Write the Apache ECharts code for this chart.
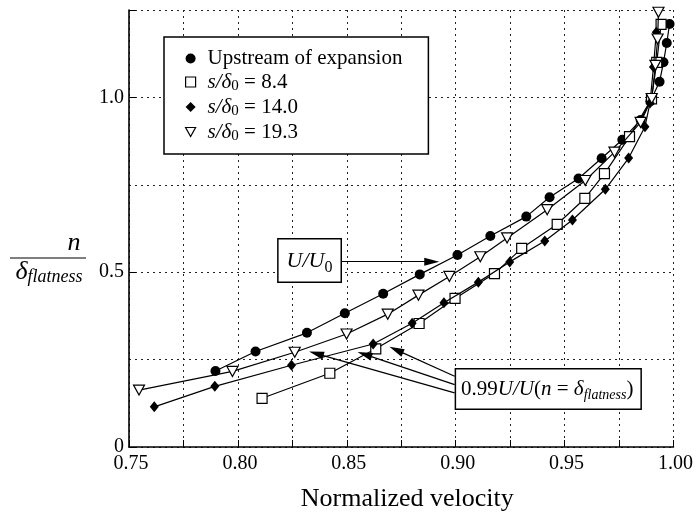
<!DOCTYPE html>
<html>
<head>
<meta charset="utf-8">
<script src="https://cdn.jsdelivr.net/npm/echarts@6/dist/echarts.min.js"></script>
<style>html,body{margin:0;padding:0;background:#fff}#c{width:696px;height:517px}</style>
</head>
<body>
<div id="c"></div>
<script>
// ---- data ----
const seriesNames = ['Upstream of expansion', 's/δ0 = 8.4', 's/δ0 = 14.0', 's/δ0 = 19.3'];
const upstream = [[0.7897,0.2172],[0.8081,0.2731],[0.8317,0.3266],[0.8491,0.3828],[0.8667,0.4384],[0.8835,0.4937],[0.9008,0.549],[0.9159,0.6034],[0.9324,0.659],[0.9431,0.7143],[0.9564,0.7679],[0.967,0.826],[0.9765,0.879],[0.9849,0.935],[0.9894,0.989],[0.9936,1.0447],[0.9954,1.1003],[0.9969,1.1556],[0.9982,1.21]];
const s84 = [[0.8111,0.1393],[0.8422,0.2109],[0.8633,0.2808],[0.8832,0.3533],[0.8997,0.4249],[0.9178,0.496],[0.9303,0.5682],[0.9466,0.637],[0.9593,0.7109],[0.9683,0.7822],[0.9798,0.8877],[0.9899,0.996],[0.9923,1.1003],[0.9943,1.2086]];
const s140 = [[0.7616,0.1149],[0.7894,0.1736],[0.8246,0.2338],[0.8621,0.2946],[0.88,0.3539],[0.8946,0.4126],[0.9104,0.4716],[0.9248,0.5295],[0.9409,0.5891],[0.9536,0.6493],[0.9687,0.7372],[0.9794,0.8266],[0.9869,0.9163],[0.9892,0.9837],[0.9908,1.0868],[0.9921,1.1862]];
const s193 = [[0.7546,0.1628],[0.7975,0.2163],[0.8261,0.2711],[0.8499,0.3232],[0.8688,0.38],[0.8829,0.4344],[0.8971,0.488],[0.9113,0.5441],[0.9236,0.598],[0.942,0.6788],[0.9595,0.7622],[0.9729,0.8433],[0.9849,0.9284],[0.99,0.9968],[0.9917,1.0917],[0.9927,1.167],[0.9931,1.2436]];
// annotation anchors (data coordinates)
const uBoxCenter = [0.8329, 0.5338];
const uArrow = [[0.8475, 0.530], [0.889, 0.530]];
const fBoxCenter = [0.9425, 0.1662];
const fArrows = [
  [[0.8995, 0.2023], [0.8727, 0.2777]],
  [[0.8995, 0.1785], [0.8582, 0.2648]],
  [[0.8995, 0.1547], [0.8360, 0.2670]]
];
const xTick = {min: 0.75, max: 1.0, step: 0.025};
const yTick = {min: 0, max: 1.25, step: 0.25, labelStep: 0.5};

const FONT = '"Liberation Serif", "Times New Roman", serif';
const chart = echarts.init(document.getElementById('c'), null, {renderer: 'canvas'});

const lineStyle = {color: '#000', width: 1.2};
const richLegend = {
  n0: {fontFamily: FONT, fontSize: 21, color: '#000', lineHeight: 24, padding: [0, 0, 0, 7]},
  it0: {fontFamily: FONT, fontSize: 21, fontStyle: 'italic', color: '#000', lineHeight: 24, padding: [0, 0, 0, 7]},
  n: {fontFamily: FONT, fontSize: 21, color: '#000', lineHeight: 24},
  sub: {fontFamily: FONT, fontSize: 15, color: '#000', lineHeight: 8, verticalAlign: 'bottom'}
};

function legendFmt(name) {
  if (name.indexOf('s/δ0') === 0) {
    return '{it0|s/δ}{sub|0}{n|' + name.slice(4) + '}';
  }
  return '{n0|' + name + '}';
}

const option = {
  animation: false,
  backgroundColor: '#fff',
  grid: {left: 129, right: 22, top: 10, bottom: 70, containLabel: false},
  xAxis: {
    type: 'value', min: xTick.min, max: xTick.max, interval: xTick.step,
    name: 'Normalized velocity', nameLocation: 'middle', nameGap: 36,
    nameTextStyle: {fontFamily: FONT, fontSize: 26, color: '#000', padding: [3, 0, 0, 12]},
    axisLine: {show: true, lineStyle: {color: '#000', width: 1.6}},
    axisTick: {show: true, inside: true, length: 7, lineStyle: {color: '#000', width: 1}},
    axisLabel: {
      fontFamily: FONT, fontSize: 20, color: '#000', margin: 7, padding: [0, 0, 0, 4],
      formatter: function (v) { const k = Math.round(v * 1000); return k % 50 === 0 ? (k / 1000).toFixed(2) : ''; }
    },
    splitLine: {show: true, lineStyle: {color: '#222', width: 1, type: [2, 4]}}
  },
  yAxis: [
    {
      type: 'value', min: yTick.min, max: yTick.max, interval: yTick.step, position: 'left',
      axisLine: {show: false}, axisTick: {show: false}, axisLabel: {show: false},
      splitLine: {show: true, lineStyle: {color: '#222', width: 1, type: [2, 4]}}
    },
    {
      type: 'value', min: yTick.min, max: yTick.max, interval: yTick.labelStep, position: 'left', offset: 0,
      axisLine: {show: true, lineStyle: {color: '#000', width: 1.6}},
      axisTick: {show: true, inside: true, length: 7, lineStyle: {color: '#000', width: 1}},
      axisLabel: {
        fontFamily: FONT, fontSize: 20, color: '#000', margin: 5,
        formatter: function (v) { if (v > 1.2) return ''; return v === 0 ? '0' : v.toFixed(1); }
      },
      splitLine: {show: false}
    }
  ],
  legend: {
    show: true, orient: 'vertical', left: 164, top: 37,
    padding: [11, 26, 10, 21], itemGap: 2.5, itemWidth: 10, itemHeight: 10,
    borderColor: '#000', borderWidth: 1.5, backgroundColor: '#fff',
    selectedMode: false,
    textStyle: {fontFamily: FONT, fontSize: 21, color: '#000', rich: richLegend},
    formatter: legendFmt,
    data: [
      {name: seriesNames[0], icon: 'circle', itemStyle: {color: '#000'}},
      {name: seriesNames[1], icon: 'rect', itemStyle: {color: '#fff', borderColor: '#000', borderWidth: 1.2}},
      {name: seriesNames[2], icon: 'diamond', itemStyle: {color: '#000'}},
      {name: seriesNames[3], icon: 'path://M0,0 L10,0 L5,9 Z', itemStyle: {color: '#fff', borderColor: '#000', borderWidth: 1.2}}
    ]
  },
  series: [
    {
      name: seriesNames[0], type: 'line', yAxisIndex: 0, data: upstream,
      symbol: 'circle', symbolSize: 10, showAllSymbol: true,
      itemStyle: {color: '#000'}, lineStyle: lineStyle, z: 3,
      markLine: {
        silent: true, animation: false,
        symbol: ['none', 'triangle'],
        lineStyle: {color: '#000', width: 1.2, type: 'solid'},
        label: {show: false},
        data: [uArrow].concat(fArrows).map(function (pair) {
          return [
            {coord: pair[0], symbol: 'none'},
            {coord: pair[1], symbol: 'triangle', symbolSize: [8, 15]}
          ];
        })
      },
      markPoint: {
        silent: true, animation: false, symbol: 'rect', symbolSize: 1,
        itemStyle: {color: 'rgba(0,0,0,0)'},
        data: [
          {
            coord: uBoxCenter,
            label: {
              show: true, position: 'inside', formatter: '{it|U/U}{sub|0}',
              backgroundColor: '#fff', borderColor: '#000', borderWidth: 1.5,
              padding: [8, 8, 6, 8],
              rich: {
                it: {fontFamily: FONT, fontSize: 22, fontStyle: 'italic', color: '#000', lineHeight: 28},
                sub: {fontFamily: FONT, fontSize: 16, color: '#000', lineHeight: 8, verticalAlign: 'bottom'}
              }
            }
          },
          {
            coord: fBoxCenter,
            label: {
              show: true, position: 'inside',
              formatter: '{n|0.99}{it|U/U}{n|(}{it|n}{n| = }{it|δ}{sub|flatness}{n|)}',
              backgroundColor: '#fff', borderColor: '#000', borderWidth: 1.5,
              padding: [7, 7, 6, 5],
              rich: {
                n: {fontFamily: FONT, fontSize: 21, color: '#000', lineHeight: 26},
                it: {fontFamily: FONT, fontSize: 21, fontStyle: 'italic', color: '#000', lineHeight: 26},
                sub: {fontFamily: FONT, fontSize: 14, fontStyle: 'italic', color: '#000', lineHeight: 8, verticalAlign: 'bottom'}
              }
            }
          }
        ]
      }
    },
    {
      name: seriesNames[1], type: 'line', yAxisIndex: 0, data: s84,
      symbol: 'rect', symbolSize: 10, showAllSymbol: true,
      itemStyle: {color: '#fff', borderColor: '#000', borderWidth: 1.2}, lineStyle: lineStyle, z: 4
    },
    {
      name: seriesNames[2], type: 'line', yAxisIndex: 0, data: s140,
      symbol: 'diamond', symbolSize: [9, 11], showAllSymbol: true,
      itemStyle: {color: '#000'}, lineStyle: lineStyle, z: 5
    },
    {
      name: seriesNames[3], type: 'line', yAxisIndex: 0, data: s193,
      symbol: 'triangle', symbolRotate: 180, symbolSize: [11, 10], showAllSymbol: true,
      itemStyle: {color: '#fff', borderColor: '#000', borderWidth: 1.2}, lineStyle: lineStyle, z: 6
    }
  ],
  graphic: [
    {type: 'text', x: 74, y: 243, style: {text: 'n', font: 'italic 26px ' + FONT, fill: '#000', textAlign: 'center', textVerticalAlign: 'middle'}},
    {type: 'line', shape: {x1: 10, y1: 258, x2: 86, y2: 258}, style: {stroke: '#000', lineWidth: 1.2}},
    {type: 'text', x: 49, y: 272, style: {
      text: '{d|δ}{s|flatness}', textAlign: 'center', textVerticalAlign: 'middle',
      rich: {
        d: {font: 'italic 26px ' + FONT, fill: '#000', lineHeight: 28},
        s: {font: 'italic 18px ' + FONT, fill: '#000', lineHeight: 10, verticalAlign: 'bottom'}
      }
    }}
  ]
};
chart.setOption(option);
</script>
</body>
</html>
